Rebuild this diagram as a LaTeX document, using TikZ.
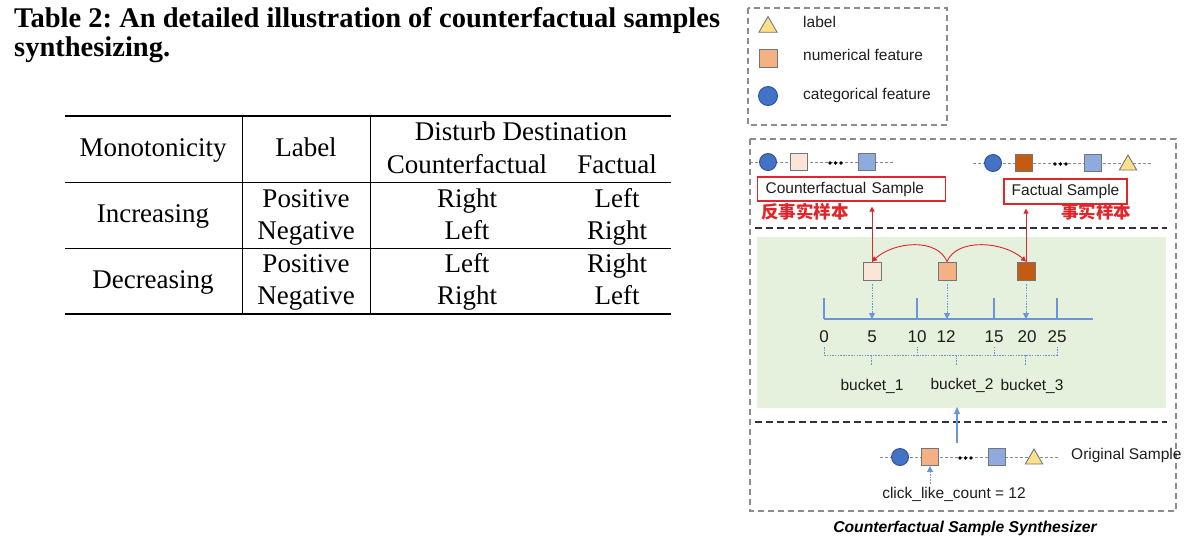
\documentclass[tikz,border=0pt]{standalone}
\usepackage{fontspec}
\setmainfont{Liberation Serif}
\newfontfamily\arial{Liberation Sans}
\newfontfamily\cjk{Noto Sans CJK SC}
\usetikzlibrary{shapes.geometric,arrows.meta}
\frenchspacing
\definecolor{catblue}{HTML}{4472C4}
\definecolor{catedge}{HTML}{2F4F8F}
\definecolor{numlight}{HTML}{FBE5D6}
\definecolor{numorange}{HTML}{F4B183}
\definecolor{numdark}{HTML}{C55A11}
\definecolor{numblue}{HTML}{8FAADC}
\definecolor{labyellow}{HTML}{FFE08A}
\definecolor{shapeedge}{HTML}{6F7680}
\definecolor{boxgray}{HTML}{8C8C8C}
\definecolor{redc}{HTML}{E0262B}
\definecolor{axisblue}{HTML}{6A96D8}
\definecolor{greenbg}{HTML}{E5F0DD}
\definecolor{txtgray}{HTML}{1E1E1E}
\tikzset{
  catnode/.style={circle, fill=catblue, draw=catedge, line width=0.9pt, minimum size=17pt, inner sep=0},
  numnode/.style={rectangle, draw=shapeedge, line width=0.9pt, minimum size=17pt, inner sep=0},
  labnode/.style={regular polygon, regular polygon sides=3, fill=labyellow, draw=shapeedge, line width=0.9pt, minimum size=21pt, inner sep=0},
  rowline/.style={draw=boxgray, line width=0.9pt, dash pattern=on 3pt off 2pt},
  dotnode/.style={circle, fill=black, minimum size=3.6pt, inner sep=0},
  graybox/.style={draw=boxgray, line width=1.5pt, dash pattern=on 6pt off 4pt},
  blackdash/.style={draw=black!80, line width=1.8pt, dash pattern=on 7pt off 4pt},
  redbox/.style={draw=redc, line width=1.2pt, inner sep=0},
  redarrow/.style={draw=redc, line width=0.9pt, -{Triangle[length=5pt,width=5pt]}},
  bluedot/.style={draw=axisblue, line width=0.9pt, dash pattern=on 1.5pt off 1.2pt, -{Triangle[length=6pt,width=6pt]}},
  bluebrace/.style={draw=axisblue, line width=0.9pt, dash pattern=on 1.5pt off 1.2pt},
  axis/.style={draw=axisblue, line width=1.1pt},
  rtxt/.style={font=\arial\fontsize{15.5}{18}\selectfont, text=txtgray, inner sep=0},
  numtxt/.style={font=\arial\fontsize{17}{19}\selectfont, text=txtgray, inner sep=0},
  cjktxt/.style={font=\cjk\bfseries\fontsize{17.5}{19}\selectfont, text=redc, inner sep=0, anchor=mid west},
  tabtxt/.style={font=\fontsize{27}{30}\selectfont, anchor=base, inner sep=0},
  titletxt/.style={font=\bfseries\fontsize{28.5}{34}\selectfont, anchor=base west, inner sep=0}
}
\begin{document}
\begin{tikzpicture}[x=1pt,y=-1pt]
\useasboundingbox (0,0) rectangle (1193,547);

% ---------- title ----------
\node[titletxt] (t1) at (14,27) {Table 2: An detailed illustration of counterfactual samples};
\node[titletxt] (t2) at (14,56) {synthesizing.};

% ---------- table ----------
\draw[line width=1.6pt] (65,116) -- (671,116);
\draw[line width=0.9pt] (65,182) -- (671,182);
\draw[line width=0.9pt] (65,248) -- (671,248);
\draw[line width=1.3pt] (65,314) -- (671,314);
\draw[line width=0.9pt] (242,116) -- (242,314);
\draw[line width=0.9pt] (370,116) -- (370,314);

\node[tabtxt] (h1) at (153,156) {Monotonicity};
\node[tabtxt] (h2) at (306,156) {Label};
\node[tabtxt] (h3) at (521,140) {Disturb Destination};
\node[tabtxt] (h4) at (467,173) {Counterfactual};
\node[tabtxt] (h5) at (617,173) {Factual};

\node[tabtxt] (r1) at (153,222) {Increasing};
\node[tabtxt] (r1a) at (306,207) {Positive};
\node[tabtxt] (r1b) at (306,239) {Negative};
\node[tabtxt] (r1c) at (467,207) {Right};
\node[tabtxt] (r1d) at (617,207) {Left};
\node[tabtxt] (r1e) at (467,239) {Left};
\node[tabtxt] (r1f) at (617,239) {Right};

\node[tabtxt] (r2) at (153,288) {Decreasing};
\node[tabtxt] (r2a) at (306,272) {Positive};
\node[tabtxt] (r2b) at (306,304) {Negative};
\node[tabtxt] (r2c) at (467,272) {Left};
\node[tabtxt] (r2d) at (617,272) {Right};
\node[tabtxt] (r2e) at (467,304) {Right};
\node[tabtxt] (r2f) at (617,304) {Left};

% ---------- legend ----------
\draw[graybox] (748,8) rectangle (947,125);
\node[labnode] (lg1) at (768,27) {};
\node[rtxt, anchor=mid west] (lgt1) at (803,25) {label};
\node[numnode, fill=numorange, minimum size=18pt] (lg2) at (768,58) {};
\node[rtxt, anchor=mid west] (lgt2) at (803,58) {numerical feature};
\node[catnode, minimum size=19pt] (lg3) at (768,96) {};
\node[rtxt, anchor=mid west] (lgt3) at (803,97) {categorical feature};

% ---------- main box ----------
\fill[greenbg] (757,237) rectangle (1166,408);
\draw[graybox] (750,139) rectangle (1176,511);
\draw[blackdash] (755,228) -- (1167,228);
\draw[blackdash] (755,422) -- (1167,422);

% counterfactual row
\coordinate (cfl) at (750,162);
\coordinate (cfr) at (895,162);
\draw[rowline] (cfl) -- (cfr);
\node[catnode] (cf1) at (768,162) {};
\node[numnode, fill=numlight] (cf2) at (799,162) {};
\node[dotnode] (cfd1) at (830,163) {};
\node[dotnode] (cfd2) at (835.5,163) {};
\node[dotnode] (cfd3) at (841,163) {};
\node[numnode, fill=numblue] (cf3) at (867,162) {};

% factual row
\coordinate (fl) at (973,163);
\coordinate (fr) at (1153,163);
\draw[rowline] (fl) -- (fr);
\node[catnode] (f1) at (993,163) {};
\node[numnode, fill=numdark] (f2) at (1024,163) {};
\node[dotnode] (fd1) at (1055,164) {};
\node[dotnode] (fd2) at (1060.5,164) {};
\node[dotnode] (fd3) at (1066,164) {};
\node[numnode, fill=numblue] (f3) at (1093,163) {};
\node[labnode, minimum size=20pt] (f4) at (1128,165) {};

% sample boxes
\node[redbox, rtxt, draw=redc, anchor=west, minimum height=24pt, text width=172pt, inner xsep=8pt, align=left] (cfbox) at (757,189) {Counterfactual Sample};
\node[redbox, rtxt, draw=redc, minimum height=25pt, minimum width=123pt] (fbox) at (1065.5,191.5) {Factual Sample};
\node[cjktxt] (cfcn) at (761,216) {反事实样本};
\node[cjktxt] (fcn) at (1061,216) {事实样本};

% green area squares
\node[numnode, fill=numlight, minimum size=18pt] (sl) at (872,271) {};
\node[numnode, fill=numorange, minimum size=18pt] (sm) at (947,271) {};
\node[numnode, fill=numdark, minimum size=18pt] (sr) at (1026,271) {};

\draw[redarrow, shorten >=5pt] (sl.north) -- (sl.north |- cfbox.south);
\draw[redarrow, shorten >=4pt] (sr.north) -- (sr.north |- fbox.south);
\draw[redarrow] (sm.north) .. controls +(-10,-24) and +(22,-20) .. (sl.north);
\draw[redarrow] (sm.north) .. controls +(10,-24) and +(-22,-20) .. (sr.north);

% number line
\coordinate (a0) at (824,319);
\coordinate (a10) at (917,319);
\coordinate (a15) at (994,319);
\coordinate (a25) at (1057,319);
\coordinate (aend) at (1093,319);
\draw[axis] (a0) -- (aend);
\foreach \p in {a0,a10,a15,a25} \draw[axis] (\p) -- ++(0,-21);
\draw[bluedot] (sl.south) ++(0,4) -- (sl.south |- a0);
\draw[bluedot] (sm.south) ++(0,4) -- (sm.south |- a0);
\draw[bluedot] (sr.south) ++(0,4) -- (sr.south |- a0);

\node[numtxt] (n0) at (824,337) {0};
\node[numtxt] (n5) at (872,337) {5};
\node[numtxt] (n10) at (917,337) {10};
\node[numtxt] (n12) at (946,337) {12};
\node[numtxt] (n15) at (994,337) {15};
\node[numtxt] (n20) at (1027,337) {20};
\node[numtxt] (n25) at (1057,337) {25};

% braces
\draw[bluebrace] (824,347) -- (824,355) -- (917,355) -- (917,347);
\draw[bluebrace] (917,355) -- (994,355) -- (994,347);
\draw[bluebrace] (994,355) -- (1057,355) -- (1057,347);
\draw[bluebrace] (871,355) -- (871,365);
\draw[bluebrace] (956,355) -- (956,365);
\draw[bluebrace] (1025,355) -- (1025,365);

\node[rtxt] (b1) at (872,386) {bucket\_1};
\node[rtxt] (b2) at (962,385) {bucket\_2};
\node[rtxt] (b3) at (1032,386) {bucket\_3};

% up arrow
\coordinate (upstart) at (957,443);
\coordinate (upend) at (957,407);
\draw[draw=axisblue, line width=1.2pt, -{Triangle[length=7pt,width=6pt]}] (upstart) -- (upend);

% original row
\coordinate (ol) at (880,457);
\coordinate (or) at (1058,457);
\draw[rowline] (ol) -- (or);
\node[catnode] (o1) at (900,457) {};
\node[numnode, fill=numorange] (o2) at (930,457) {};
\node[dotnode] (od1) at (960,458) {};
\node[dotnode] (od2) at (965.5,458) {};
\node[dotnode] (od3) at (971,458) {};
\node[numnode, fill=numblue] (o3) at (997,457) {};
\node[labnode, minimum size=20pt] (o4) at (1034,459) {};
\node[rtxt, anchor=mid west] (otxt) at (1071,457) {Original Sample};

\node[rtxt] (click) at (954,494) {click\_like\_count = 12};
\draw[bluedot] (click.north -| o2.south) ++(0,-3) -- (o2.south);

\node[font=\arial\bfseries\itshape\fontsize{15.7}{18}\selectfont, text=black, inner sep=0] (cap) at (965,528) {Counterfactual Sample Synthesizer};
\end{tikzpicture}
\end{document}
